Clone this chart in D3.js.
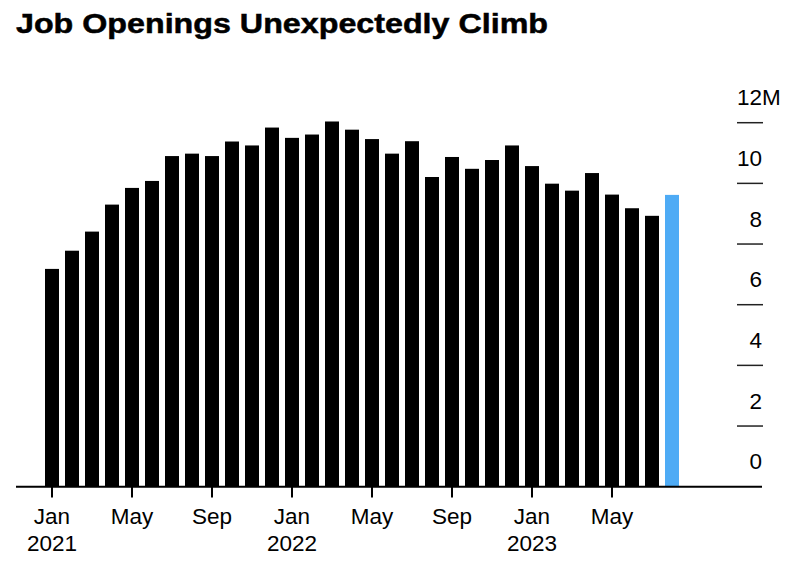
<!DOCTYPE html>
<html><head><meta charset="utf-8">
<script src="https://cdn.jsdelivr.net/npm/d3@7"></script>
<style>
body{margin:0;background:#fff;}
svg text{font-family:"Liberation Sans","Helvetica",Arial,sans-serif;fill:#000;}
</style></head>
<body><svg id="chart" width="796" height="568"></svg>
<script>
const months = ["Jan 2021","Feb 2021","Mar 2021","Apr 2021","May 2021","Jun 2021","Jul 2021","Aug 2021","Sep 2021","Oct 2021","Nov 2021","Dec 2021",
"Jan 2022","Feb 2022","Mar 2022","Apr 2022","May 2022","Jun 2022","Jul 2022","Aug 2022","Sep 2022","Oct 2022","Nov 2022","Dec 2022",
"Jan 2023","Feb 2023","Mar 2023","Apr 2023","May 2023","Jun 2023","Jul 2023","Aug 2023"];
const openings = [7.18,7.78,8.41,9.30,9.85,10.08,10.90,10.98,10.90,11.38,11.25,11.84,
11.50,11.61,12.04,11.77,11.46,10.98,11.39,10.21,10.87,10.48,10.77,11.25,
10.57,9.99,9.76,10.34,9.63,9.18,8.93,9.62];
const xTickMonths = ["Jan 2021","May 2021","Sep 2021","Jan 2022","May 2022","Sep 2022","Jan 2023","May 2023"];
const yTicks = [0,2,4,6,8,10,12];
const title = "Job Openings Unexpectedly Climb";

const svg = d3.select("#chart");
const baseY = 486.7;
const x = d3.scaleBand().domain(months).range([42, 682]).paddingInner(0.3).paddingOuter(0.15);
const y = d3.scaleLinear().domain([0, 12]).range([baseY, 122.7]);

// title
svg.append("text").attr("x", 16).attr("y", 33)
  .attr("font-size", 27.5).attr("font-weight", "bold")
  .attr("textLength", 532).attr("lengthAdjust", "spacingAndGlyphs")
  .attr("stroke", "#000").attr("stroke-width", 0.5)
  .text(title);

// bars
svg.append("g").selectAll("rect").data(months).join("rect")
  .attr("x", d => x(d)).attr("width", x.bandwidth())
  .attr("y", (d,i) => y(openings[i]))
  .attr("height", (d,i) => baseY - y(openings[i]))
  .attr("fill", (d,i) => i === months.length - 1 ? "#4eabf5" : "#000");

// y axis: tick lines on right, labels above them
const yg = svg.append("g");
yg.selectAll("line").data(yTicks.filter(v => v > 0)).join("line")
  .attr("x1", 737).attr("x2", 763)
  .attr("y1", d => y(d)).attr("y2", d => y(d))
  .attr("stroke", "#222").attr("stroke-width", 1.5);
yg.selectAll("text").data(yTicks).join("text")
  .attr("x", 762).attr("y", d => y(d) - 17.5)
  .attr("text-anchor", "end").attr("font-size", 22.5)
  .text(d => d)
  .filter(d => d === 12)
  .append("tspan").text("M");
yg.selectAll("text").filter(d => d === 12).attr("text-anchor", "start").attr("x", 762 - 25);

// baseline
svg.append("line").attr("x1", 16).attr("x2", 762).attr("y1", baseY).attr("y2", baseY)
  .attr("stroke", "#000").attr("stroke-width", 2);

// x axis ticks
const xa = svg.append("g");
xa.selectAll("line").data(xTickMonths).join("line")
  .attr("x1", d => x(d) + x.bandwidth()/2).attr("x2", d => x(d) + x.bandwidth()/2)
  .attr("y1", baseY).attr("y2", 497.5)
  .attr("stroke", "#000").attr("stroke-width", 2);
const lbl = xa.selectAll("text").data(xTickMonths).join("text")
  .attr("x", d => x(d) + x.bandwidth()/2).attr("y", 524)
  .attr("text-anchor", "middle").attr("font-size", 22.5);
lbl.append("tspan").text(d => d.split(" ")[0]);
lbl.filter(d => d.startsWith("Jan")).append("tspan")
  .attr("x", d => x(d) + x.bandwidth()/2).attr("y", 551)
  .text(d => d.split(" ")[1]);
</script></body></html>
